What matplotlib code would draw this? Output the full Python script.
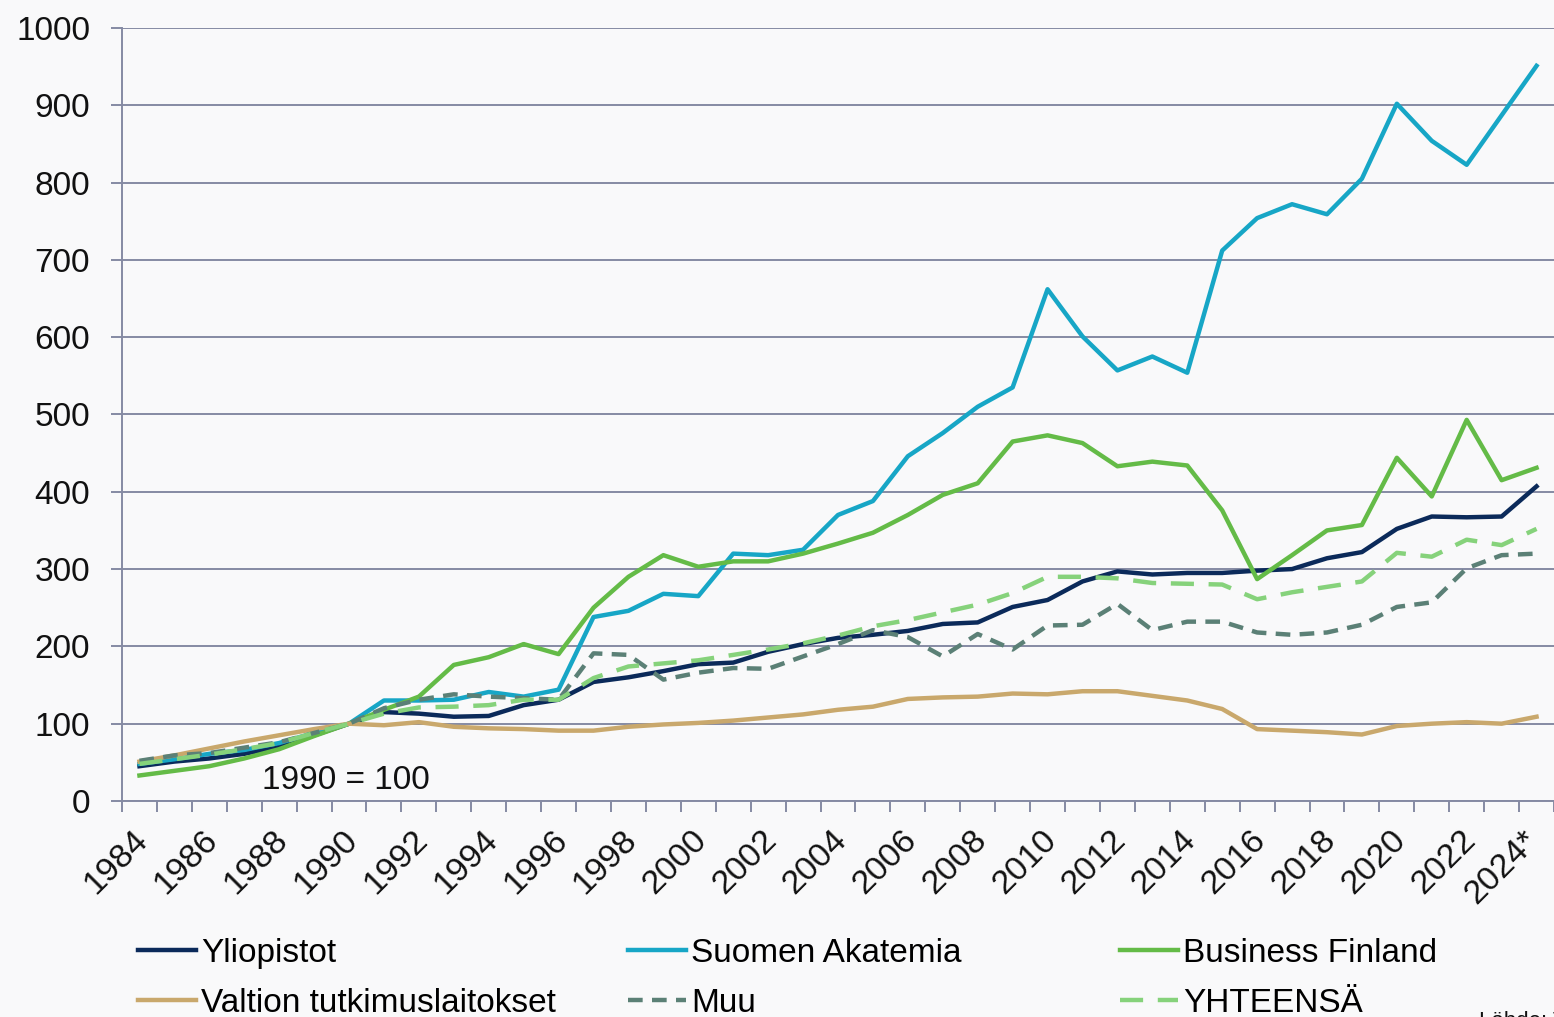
import matplotlib
matplotlib.use("Agg")
import matplotlib.pyplot as plt
from matplotlib.transforms import ScaledTranslation

plt.rcParams["font.family"] = ["Liberation Sans", "DejaVu Sans"]

# --- data (index, 1990 = 100) ---
years = list(range(1984, 2025))
tick_labels = [str(y) for y in range(1984, 2024, 2)] + ["2024*"]

yliopistot = [45, 51, 55, 61, 70, 85, 100, 115, 113, 109, 110, 124, 131, 154, 160,
              168, 177, 179, 193, 203, 211, 215, 220, 229, 231, 251, 260, 284, 297,
              293, 295, 295, 298, 300, 314, 322, 352, 368, 367, 368, 407]
akatemia = [48, 54, 61, 66, 75, 88, 100, 130, 130, 131, 141, 135, 144, 238, 246,
            268, 265, 320, 318, 325, 370, 388, 446, 476, 510, 535, 662, 601, 557,
            575, 554, 712, 754, 772, 759, 805, 902, 854, 823, 887, 951]
business_finland = [33, 39, 45, 55, 67, 84, 100, 118, 135, 176, 186, 203, 190, 250,
                    290, 318, 303, 310, 310, 320, 333, 347, 370, 396, 411, 465, 473,
                    463, 433, 439, 434, 376, 287, 318, 350, 357, 444, 394, 493, 415, 431]
valtion = [51, 59, 68, 77, 85, 93, 100, 98, 102, 96, 94, 93, 91, 91, 96, 99, 101,
           104, 108, 112, 118, 122, 132, 134, 135, 139, 138, 142, 142, 136, 130, 119,
           93, 91, 89, 86, 97, 100, 102, 100, 109]
muu = [52, 59, 62, 69, 76, 88, 100, 120, 131, 138, 135, 133, 131, 191, 189, 157,
       166, 172, 171, 187, 203, 221, 212, 187, 216, 196, 227, 228, 255, 221, 232,
       232, 218, 215, 218, 228, 251, 257, 301, 318, 320]
yhteensa = [48, 54, 60, 67, 75, 88, 100, 113, 121, 122, 124, 131, 131, 159, 174,
            178, 182, 189, 196, 204, 214, 226, 234, 244, 254, 269, 290, 290, 288,
            282, 281, 280, 261, 270, 277, 284, 321, 316, 338, 331, 352]

bg = "#f9f9fa"
grid_c = "#858aa3"

fig = plt.figure(figsize=(15.54, 10.17), dpi=100, facecolor=bg)
ax = fig.add_axes([0.0785, 0.2124, 0.9215, 0.7601], facecolor=bg)

idx = list(range(len(years)))
lw = 3.2
l_yl, = ax.plot(idx, yliopistot, color="#0b2a5a", lw=lw, label="Yliopistot")
l_ak, = ax.plot(idx, akatemia, color="#17a6c6", lw=lw, label="Suomen Akatemia")
l_bf, = ax.plot(idx, business_finland, color="#64bb47", lw=lw, label="Business Finland")
l_va, = ax.plot(idx, valtion, color="#c9a86c", lw=lw, label="Valtion tutkimuslaitokset")
l_mu, = ax.plot(idx, muu, color="#5b8076", lw=lw, ls=(0, (3.3, 2.1)), label="Muu")
l_yh, = ax.plot(idx, yhteensa, color="#86d27b", lw=lw, ls=(0, (5.2, 3.3)), label="YHTEENSÄ")

ax.set_ylim(0, 1000)
ax.set_xlim(-0.5, 40.1)
ax.set_yticks(range(0, 1001, 100))
ax.yaxis.grid(True, color=grid_c, lw=1.4)
ax.set_axisbelow(True)
for s in ["top", "right"]:
    ax.spines[s].set_visible(False)
ax.spines["left"].set_color(grid_c)
ax.spines["left"].set_linewidth(1.4)
ax.spines["bottom"].set_color(grid_c)
ax.spines["bottom"].set_linewidth(1.4)

ax.tick_params(axis="y", length=8, width=1.4, color=grid_c, pad=15,
               labelsize=24, labelcolor="#111111")

# year boundaries as small ticks, labels every second year
ax.set_xticks([i - 0.5 for i in range(len(years) + 1)], minor=True)
ax.set_xticks(idx[::2])
ax.set_xticklabels(tick_labels, rotation=45, ha="right", va="top",
                   rotation_mode="anchor", fontsize=24.5, color="#111111")
ax.tick_params(axis="x", which="minor", length=8, width=1.4, color=grid_c)
ax.tick_params(axis="x", which="major", length=0, pad=17)
xlabs = ax.get_xticklabels()
for i, lab in enumerate(xlabs):
    dx = -7 if i < len(xlabs) - 1 else -14
    lab.set_transform(lab.get_transform() + ScaledTranslation(dx / 100, 0, fig.dpi_scale_trans))

ax.text(5.9, 27, "1990 = 100", fontsize=24, ha="center", va="center", color="#111111")

# legend: three columns, placed separately
leg_kw = dict(loc="upper left", frameon=False, fontsize=24, handlelength=1.75,
              handletextpad=0.15, labelspacing=0.57, borderpad=0, borderaxespad=0)
fig.legend(handles=[l_yl, l_va], bbox_to_anchor=(0.0888, 0.0777), **leg_kw)
fig.legend(handles=[l_ak, l_mu], bbox_to_anchor=(0.4041, 0.0777), **leg_kw)
fig.legend(handles=[l_bf, l_yh], bbox_to_anchor=(0.7207, 0.0777), **leg_kw)

fig.text(0.952, 0.0055, "Lähde: Tilastokeskus", fontsize=16, ha="left", va="top",
         color="#111111")

fig.savefig("out.png", dpi=100, facecolor=bg)
